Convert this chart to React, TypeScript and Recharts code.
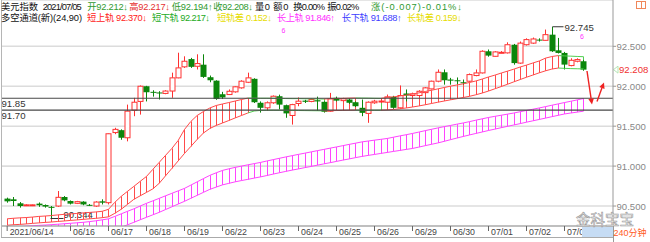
import React from 'react';
import { ComposedChart, Bar, Line, XAxis, YAxis, CartesianGrid, ReferenceLine } from 'recharts';

const FONT = "'Liberation Sans','Noto Sans CJK SC',sans-serif";

// x-axis day labels and the bar index where each day starts
const tickLabels = ['2021/06/14', '06/16', '06/17', '06/18', '06/19', '06/22', '06/23', '06/24', '06/25', '06/26', '06/29', '06/30', '07/01', '07/02', '07/03'];
const tickBars = [0, 10, 16, 22, 28, 34, 40, 46, 52, 58, 64, 70, 76, 82, 88];

// 240-minute candles
const openV = [90.593, 90.584, 90.534, 90.510, 90.505, 90.530, 90.513, 90.490, 90.500, 90.613, 90.563, 90.534, 90.555, 90.515, 90.500, 90.559,
  90.542, 91.420, 91.450, 91.355, 91.700, 91.810, 92.000, 91.930, 91.922, 91.910, 91.940, 92.105, 92.243, 92.340, 92.250, 92.270,
  92.113, 92.070, 91.900, 91.896, 91.930, 91.980, 92.050, 92.093, 91.793, 91.730, 91.793, 91.875, 91.763, 91.634, 91.784, 91.820,
  91.810, 91.825, 91.805, 91.688, 91.855, 91.820, 91.834, 91.800, 91.730, 91.660, 91.793, 91.810, 91.800, 91.867, 91.730, 91.909,
  91.884, 91.884, 91.920, 91.967, 92.063, 92.175, 92.084, 92.075, 92.050, 92.063, 92.134, 92.167, 92.438, 92.375, 92.420, 92.418,
  92.520, 92.290, 92.520, 92.540, 92.584, 92.575, 92.646, 92.450, 92.417, 92.259, 92.313, 92.313];
const highV = [90.605, 90.613, 90.550, 90.525, 90.520, 90.545, 90.520, 90.500, 90.688, 90.625, 90.570, 90.565, 90.560, 90.525, 90.560, 90.584,
  91.410, 91.480, 91.460, 91.770, 91.855, 92.010, 92.005, 91.950, 91.938, 91.950, 92.170, 92.420, 92.375, 92.355, 92.400, 92.400,
  92.134, 92.075, 91.930, 91.960, 92.000, 92.075, 92.170, 92.100, 91.810, 91.810, 91.885, 91.895, 91.770, 91.780, 91.860, 91.830,
  91.845, 91.870, 91.810, 91.917, 91.870, 91.855, 91.850, 91.810, 91.834, 91.810, 91.830, 91.840, 91.896, 91.880, 92.010, 91.960,
  91.920, 91.950, 91.990, 92.070, 92.210, 92.210, 92.105, 92.110, 92.084, 92.160, 92.210, 92.450, 92.460, 92.440, 92.440, 92.550,
  92.530, 92.560, 92.600, 92.610, 92.600, 92.710, 92.745, 92.605, 92.430, 92.350, 92.350, 92.330];
const lowV = [90.542, 90.500, 90.480, 90.500, 90.500, 90.490, 90.480, 90.344, 90.490, 90.560, 90.520, 90.525, 90.510, 90.500, 90.490, 90.520,
  90.520, 91.400, 91.330, 91.310, 91.625, 91.645, 91.810, 91.870, 91.834, 91.900, 91.855, 92.100, 92.230, 92.230, 92.210, 92.105,
  92.050, 91.830, 91.840, 91.890, 91.920, 91.970, 92.040, 91.790, 91.670, 91.690, 91.780, 91.710, 91.605, 91.520, 91.750, 91.790,
  91.800, 91.690, 91.670, 91.680, 91.810, 91.810, 91.780, 91.740, 91.625, 91.542, 91.780, 91.790, 91.790, 91.720, 91.720, 91.810,
  91.870, 91.870, 91.910, 91.960, 92.050, 92.020, 92.020, 92.020, 92.020, 92.050, 92.125, 92.160, 92.370, 92.370, 92.410, 92.410,
  92.270, 92.280, 92.510, 92.530, 92.560, 92.570, 92.430, 92.410, 92.210, 92.250, 92.300, 92.194];
const closeV = [90.559, 90.563, 90.500, 90.515, 90.515, 90.510, 90.493, 90.487, 90.609, 90.571, 90.530, 90.555, 90.520, 90.513, 90.550, 90.542,
  91.405, 91.460, 91.355, 91.688, 91.800, 92.000, 91.925, 91.925, 91.918, 91.940, 92.105, 92.230, 92.313, 92.243, 92.284, 92.117,
  92.075, 91.840, 91.860, 91.937, 91.993, 92.063, 92.105, 91.800, 91.730, 91.793, 91.875, 91.770, 91.660, 91.770, 91.813, 91.805,
  91.834, 91.810, 91.680, 91.843, 91.820, 91.843, 91.793, 91.750, 91.667, 91.800, 91.813, 91.815, 91.867, 91.730, 91.884, 91.884,
  91.905, 91.937, 91.980, 92.063, 92.175, 92.075, 92.070, 92.063, 92.047, 92.146, 92.167, 92.438, 92.384, 92.430, 92.425, 92.520,
  92.290, 92.540, 92.584, 92.592, 92.575, 92.646, 92.438, 92.417, 92.271, 92.325, 92.334, 92.208];

// 多空通道 short channel (24)
const shortUpper = [90.340, 90.347, 90.352, 90.356, 90.362, 90.370, 90.375, 90.381, 90.389, 90.396, 90.402, 90.407, 90.414, 90.420, 90.426, 90.434,
  90.459, 90.547, 90.621, 90.684, 90.746, 90.809, 90.871, 90.959, 91.046, 91.134, 91.221, 91.321, 91.459, 91.559, 91.634, 91.684,
  91.728, 91.759, 91.778, 91.796, 91.815, 91.834, 91.852,
  91.851, 91.850, 91.850, 91.849, 91.848, 91.846, 91.845, 91.845, 91.843, 91.842, 91.841, 91.840,
  91.843, 91.846, 91.848, 91.851, 91.853,
  91.852, 91.851, 91.849, 91.848,
  91.859, 91.867, 91.878, 91.889, 91.903, 91.917, 91.934, 91.950, 91.967, 91.984, 92.001, 92.016, 92.030, 92.047, 92.066, 92.090,
  92.116, 92.139, 92.165, 92.189, 92.214, 92.241, 92.265, 92.291, 92.316,
  92.352, 92.372, 92.384, 92.380, 92.377, 92.373, 92.370];
const shortLower = [90.259, 90.266, 90.270, 90.276, 90.283, 90.289, 90.295, 90.300, 90.307, 90.313, 90.320, 90.326, 90.333, 90.340, 90.346, 90.354,
  90.365, 90.409, 90.459, 90.521, 90.584, 90.628, 90.671, 90.715, 90.784, 90.878, 90.971, 91.065, 91.159, 91.246, 91.334, 91.415,
  91.471, 91.509, 91.540, 91.571, 91.603, 91.634, 91.665, 91.690,
  91.697, 91.699, 91.700, 91.699, 91.698, 91.697, 91.696, 91.695, 91.694, 91.693, 91.692, 91.694, 91.696, 91.698, 91.700, 91.701,
  91.700, 91.699, 91.699, 91.700,
  91.703, 91.709, 91.718, 91.728, 91.740, 91.753, 91.768, 91.784, 91.800, 91.815, 91.830, 91.844, 91.859, 91.874, 91.893, 91.915,
  91.940, 91.968, 91.996, 92.025, 92.055, 92.084, 92.113, 92.140, 92.168, 92.193, 92.215, 92.228,
  92.224, 92.221, 92.219, 92.217];

// long channel (90)
const longUpper = [90.234, 90.239, 90.243, 90.248, 90.253, 90.258, 90.262, 90.267, 90.272, 90.278, 90.284, 90.290, 90.296, 90.305, 90.315, 90.327,
  90.340, 90.370, 90.402, 90.434, 90.465, 90.500, 90.534, 90.565, 90.596, 90.628, 90.659, 90.690, 90.721, 90.762, 90.803, 90.844,
  90.884, 90.916, 90.946, 90.966, 90.984, 91.000, 91.016, 91.031, 91.046, 91.064, 91.081, 91.098, 91.115, 91.131, 91.147, 91.162,
  91.178, 91.194, 91.209, 91.225, 91.240, 91.256, 91.272, 91.287, 91.303, 91.314, 91.325, 91.335, 91.346, 91.362, 91.378, 91.393,
  91.409, 91.426, 91.444, 91.461, 91.478, 91.494, 91.509, 91.525, 91.540, 91.557, 91.575, 91.592, 91.609, 91.623, 91.637, 91.651,
  91.665, 91.681, 91.697, 91.712, 91.728, 91.745, 91.762, 91.779, 91.796, 91.812, 91.829, 91.846];
const longLower = [90.059, 90.065, 90.072, 90.078, 90.084, 90.089, 90.094, 90.098, 90.103, 90.109, 90.115, 90.121, 90.128, 90.137, 90.148, 90.159,
  90.171, 90.203, 90.234, 90.265, 90.296, 90.328, 90.359, 90.390, 90.421, 90.456, 90.490, 90.525, 90.559, 90.597, 90.634, 90.672,
  90.709, 90.737, 90.765, 90.784, 90.803, 90.819, 90.834, 90.850, 90.865, 90.882, 90.900, 90.917, 90.934, 90.950, 90.965, 90.981,
  90.996, 91.012, 91.028, 91.043, 91.059, 91.075, 91.090, 91.106, 91.121, 91.134, 91.146, 91.159, 91.171, 91.184, 91.196, 91.209,
  91.221, 91.238, 91.256, 91.273, 91.290, 91.310, 91.331, 91.351, 91.371, 91.390, 91.409, 91.427, 91.446, 91.463, 91.481, 91.498,
  91.515, 91.532, 91.550, 91.567, 91.584, 91.601, 91.619, 91.636, 91.653, 91.665, 91.676, 91.688];

const priceLines = [91.85, 91.70];
const yTicks = [90.5, 91, 91.5, 92, 92.5];
const yDomain = [90.25, 93.08];
const TOTAL_SLOTS = 96;

const RED = '#ff3030';
const RED_CH = '#ff4a4a';
const GREEN = '#0b860b';
const GREEN_CH = '#52cf52';
const MAGENTA = '#ff44ff';

const trend = shortUpper.map((v, i) => (i === 0 || v > shortUpper[i - 1] ? 'r' : 'g'));
const maxHigh = Math.max(...highV);
const minLow = Math.min(...lowV);
const lastClose = closeV[closeV.length - 1];

const data = Array.from({ length: TOTAL_SLOTS }, (_, i) => {
  if (i >= openV.length) return { i };
  const tr = trend[i];
  const nx = trend[i + 1];
  return {
    i,
    o: openV[i], h: highV[i], l: lowV[i], c: closeV[i],
    su: shortUpper[i], sl: shortLower[i], lu: longUpper[i], ll: longLower[i],
    tr,
    segEnd: tr === 'g' && nx !== 'g',
    suR: tr === 'r' || nx === 'r' ? shortUpper[i] : null,
    slR: tr === 'r' || nx === 'r' ? shortLower[i] : null,
    suG: tr === 'g' || nx === 'g' ? shortUpper[i] : null,
    slG: tr === 'g' || nx === 'g' ? shortLower[i] : null,
  };
});

const rangeKey = (d: any) =>
  d.o == null ? null : [Math.min(d.l, d.sl, d.ll), Math.max(d.h, d.su, d.lu)];

const CandleShape = (props: any) => {
  const { x, y, width, height, payload } = props;
  if (!payload || payload.o == null) return null;
  const lo = Math.min(payload.l, payload.sl, payload.ll);
  const hi = Math.max(payload.h, payload.su, payload.lu);
  const top = Math.min(y, y + height);
  const bot = Math.max(y, y + height);
  const py = (v: number) => top + ((hi - v) / (hi - lo)) * (bot - top);
  const cx = x + width / 2;
  const lx = Math.round(cx) + 0.5;
  const { o, h, l, c } = payload;
  const up = c >= o;
  const bTop = py(Math.max(o, c));
  const bBot = py(Math.min(o, c));
  const bh = Math.max(1, bBot - bTop);
  const bx = lx - 2.5;
  const els: any[] = [];
  els.push(<line key="lh" x1={lx} x2={lx} y1={py(payload.lu)} y2={py(payload.ll)} stroke={MAGENTA} strokeWidth={1} />);
  if (payload.tr === 'r') {
    els.push(<line key="sh" x1={lx} x2={lx} y1={py(payload.su)} y2={py(payload.sl)} stroke={RED_CH} strokeWidth={1} />);
  } else if (payload.segEnd) {
    els.push(<line key="ge" x1={lx} x2={lx} y1={py(payload.su)} y2={py(payload.sl)} stroke={GREEN_CH} strokeWidth={1} />);
  }
  if (up) {
    els.push(<line key="w1" x1={lx} x2={lx} y1={py(h)} y2={bTop} stroke={RED} />);
    els.push(<line key="w2" x1={lx} x2={lx} y1={bTop + bh} y2={py(l)} stroke={RED} />);
    els.push(<rect key="b" x={bx} y={bTop} width={5} height={bh} fill="#fff" stroke={RED} strokeWidth={1} />);
  } else {
    els.push(<line key="w" x1={lx} x2={lx} y1={py(h)} y2={py(l)} stroke={GREEN} />);
    els.push(<rect key="b" x={bx - 0.5} y={bTop} width={6} height={bh} fill={GREEN} />);
  }
  if (h === maxHigh) {
    const yy = py(h);
    els.push(<line key="mx" x1={lx} x2={lx + 11} y1={yy} y2={yy} stroke="#333" />);
    els.push(<text key="mxt" x={lx + 12} y={yy + 3.8} fontSize={9.6} fill="#333" fontFamily={FONT}>{h.toFixed(3)}</text>);
  }
  if (l === minLow) {
    const yy = py(l);
    els.push(<line key="mn" x1={lx - 1} x2={lx + 12} y1={yy} y2={yy} stroke="#333" />);
    els.push(<text key="mnt" x={lx + 12} y={yy} fontSize={9.6} fill="#333" fontFamily={FONT}>{l.toFixed(3)}</text>);
  }
  return <g>{els}</g>;
};

const XTick = (props: any) => {
  const { x, y, payload } = props;
  const k = tickBars.indexOf(payload.value);
  if (k < 0) return null;
  return (
    <g>
      <line x1={x} x2={x} y1={y} y2={y + 5} stroke="#666" />
      <text x={x + 2.5} y={y + 8.8} fontSize={8.8} fill="#444" fontFamily={FONT}>{tickLabels[k]}</text>
    </g>
  );
};

const YTick = (props: any) => {
  const { x, y, payload } = props;
  return (
    <g>
      <line x1={x} x2={x + 3} y1={y} y2={y} stroke="#999" />
      <text x={x + 3.5} y={y + 3.5} fontSize={9.6} fill="#888" fontFamily={FONT}>{Number(payload.value).toFixed(3)}</text>
    </g>
  );
};

const LeftLabel = (props: any) => {
  const vb = props.viewBox || {};
  return (
    <text x={(vb.x || 0) + 0.5} y={(vb.y || 0) + 8.6} fontSize={9.6} fill="#333" fontFamily={FONT}>{props.text}</text>
  );
};

const CloseTag = (props: any) => {
  const vb = props.viewBox || {};
  const x = (vb.x || 0) + (vb.width || 0);
  const y = vb.y || 0;
  return (
    <g>
      <polygon points={`${x + 0.5},${y} ${x + 5},${y - 3.5} ${x + 5},${y + 3.5}`} fill="none" stroke="#b5e5b5" />
      <text x={x + 6} y={y + 3.5} fontSize={9.6} fill="#f03030" fontFamily={FONT}>{lastClose.toFixed(3)}</text>
    </g>
  );
};

const HItem = ({ x, y, w, color, children }: any) => (
  <text x={x} y={y} fontSize={9.3} fill={color} textLength={w} fontFamily={FONT}>{children}</text>
);

const Overlay = () => (
  <svg width={650} height={242} style={{ position: 'absolute', left: 0, top: 0, pointerEvents: 'none' }}>
    <line x1={1.5} y1={0} x2={1.5} y2={237} stroke="#b5b5b5" />
    <line x1={613.5} y1={226} x2={613.5} y2={242} stroke="#999" />
    <line x1={1} y1={237.5} x2={613} y2={237.5} stroke="#aaa" />
    <rect x={582} y={227} width={31} height={10} fill="#c6dcf4" />
    <text x={613.5} y={235.5} fontSize={9} fill="#ff5a1f" fontFamily={FONT}>240分钟</text>
    <text x={576} y={225} fontSize={14.5} fill="#fff" stroke="#9a9a9a" strokeWidth={0.6} fontFamily={FONT}>金科宝宝</text>
    <rect x={636.5} y={1.5} width={9} height={7} fill="none" stroke="#f0875a" />
    <line x1={641.5} x2={641.5} y1={1.5} y2={8.5} stroke="#f0875a" />
    {/* header row 1 */}
    <HItem x={1} y={9.8} w={37} color="#111">美元指数</HItem>
    <HItem x={42.7} y={9.8} w={39} color="#111">2021/07/05</HItem>
    <HItem x={87.3} y={9.8} w={40.7} color="#2f9a2f">开92.212↓</HItem>
    <HItem x={129.3} y={9.8} w={40.7} color="#e63030">高92.217↓</HItem>
    <HItem x={171.7} y={9.8} w={41} color="#2f9a2f">低92.194↑</HItem>
    <HItem x={213.3} y={9.8} w={39.7} color="#2f9a2f">收92.208↓</HItem>
    <HItem x={255} y={9.8} w={15} color="#111">量0</HItem>
    <HItem x={273.3} y={9.8} w={15} color="#111">额0</HItem>
    <HItem x={293.3} y={9.8} w={31.7} color="#111">换0.00%</HItem>
    <HItem x={327.3} y={9.8} w={32} color="#111">振0.02%</HItem>
    <HItem x={371} y={9.8} w={91} color="#2f9a2f">涨(-0.007)-0.01%↓</HItem>
    {/* header row 2 */}
    <HItem x={1} y={21} w={81} color="#111">多空通道(新)(24,90)</HItem>
    <HItem x={87} y={21} w={60} color="#ff2020">短上轨 92.370↓</HItem>
    <HItem x={152} y={21} w={58} color="#22aa22">短下轨 92.217↓</HItem>
    <HItem x={217} y={21} w={55} color="#e6dc00">短轨差 0.152↓</HItem>
    <HItem x={277} y={21} w={58} color="#ff30ff">长上轨 91.846↑</HItem>
    <HItem x={341.7} y={21} w={60} color="#3c3cff">长下轨 91.688↑</HItem>
    <HItem x={407} y={21} w={54.7} color="#e6dc00">长轨差 0.159↓</HItem>
    <text x={281.5} y={32.5} fontSize={7} fill="#ff30ff" fontFamily={FONT}>6</text>
    <text x={580} y={38.5} fontSize={7} fill="#ff30ff" fontFamily={FONT}>6</text>
    {/* hand-drawn arrows */}
    <g stroke="#ee2222" strokeWidth={1.4}>
      <line x1={587} y1={71} x2={591.1} y2={98.6} />
      <line x1={597} y1={101.5} x2={601.9} y2={88.1} />
    </g>
    <polygon points="592,104.5 593.9,98.2 588.3,99" fill="#ee2222" />
    <polygon points="604,82.5 604.5,89.1 599.3,87.1" fill="#ee2222" />
  </svg>
);

export default function App() {
  return (
    <div style={{ position: 'absolute', left: 0, top: 0, width: 650, height: 242, overflow: 'hidden', background: '#fff' }}>
      <ComposedChart width={650} height={242} data={data} margin={{ top: 0, right: 0, bottom: 0, left: 1 }} barCategoryGap="10%">
        <CartesianGrid horizontal vertical={false} stroke="#dcdcdc" strokeWidth={1.6} />
        <XAxis dataKey="i" type="category" ticks={tickBars} interval={0} tick={<XTick />} tickLine={false}
          tickSize={0} tickMargin={0} height={16} padding={{ left: 3, right: 1 }} axisLine={{ stroke: '#999' }} />
        <YAxis orientation="right" width={37} domain={yDomain} allowDataOverflow ticks={yTicks} tick={<YTick />}
          tickLine={false} tickSize={0} tickMargin={0} axisLine={{ stroke: '#999' }} />
        <Line dataKey="lu" stroke={MAGENTA} strokeWidth={1} dot={false} isAnimationActive={false} />
        <Line dataKey="ll" stroke={MAGENTA} strokeWidth={1} dot={false} isAnimationActive={false} />
        <Line dataKey="suR" stroke={RED_CH} strokeWidth={1} dot={false} isAnimationActive={false} connectNulls={false} />
        <Line dataKey="slR" stroke={RED_CH} strokeWidth={1} dot={false} isAnimationActive={false} connectNulls={false} />
        <Line dataKey="suG" stroke={GREEN_CH} strokeWidth={1} dot={false} isAnimationActive={false} connectNulls={false} />
        <Line dataKey="slG" stroke={GREEN_CH} strokeWidth={1} dot={false} isAnimationActive={false} connectNulls={false} />
        {priceLines.map((v) => (
          <ReferenceLine key={v} y={v} stroke="#474747" strokeWidth={1.2} label={(p: any) => <LeftLabel {...p} text={v.toFixed(2)} />} />
        ))}
        <ReferenceLine y={lastClose} stroke="none" strokeOpacity={0} label={(p: any) => <CloseTag {...p} />} />
        <Bar dataKey={rangeKey} shape={<CandleShape />} isAnimationActive={false} />
      </ComposedChart>
      <Overlay />
    </div>
  );
}
